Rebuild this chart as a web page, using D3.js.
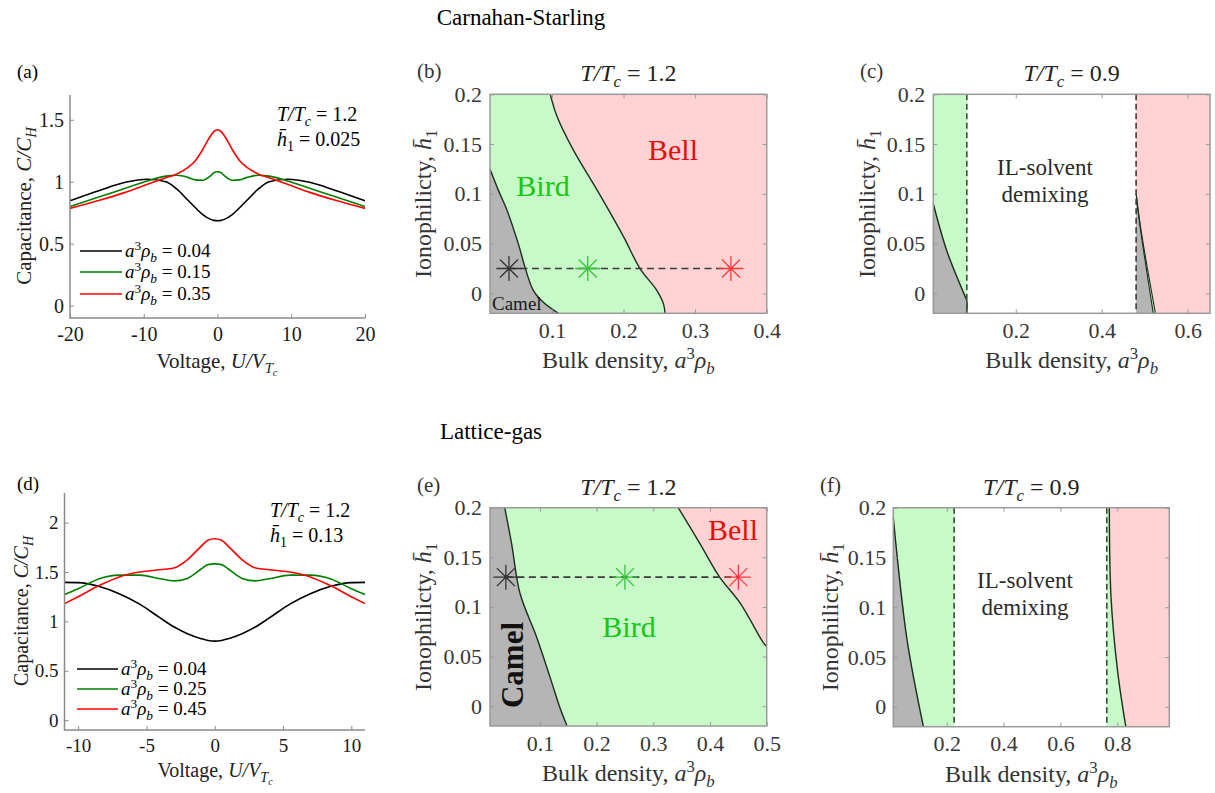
<!DOCTYPE html>
<html>
<head>
<meta charset="utf-8">
<script src="https://cdn.jsdelivr.net/npm/d3@7"></script>
<style>
  body { margin: 0; background: #fff; }
  text { font-family: "Liberation Serif", "DejaVu Serif", serif; }
</style>
</head>
<body>
<div id="chart"></div>
<script>

// DATA: capacitance curves
//=====================
var voltageA = [-20, -16, -12.5, -9.5, -7, -5.5, -4, -3, -2, -1, -0.5, 0, 0.5, 1, 2, 3, 4, 5.5, 7, 9.5, 12.5, 16, 20];
var capA004 = [0.847, 0.93, 0.995, 1.02, 1.0, 0.94, 0.85, 0.79, 0.735, 0.698, 0.688, 0.685, 0.688, 0.698, 0.735, 0.79, 0.85, 0.94, 1.0, 1.02, 0.995, 0.93, 0.847];
var capA015 = [0.80, 0.878, 0.947, 1.006, 1.045, 1.052, 1.035, 1.015, 1.012, 1.045, 1.072, 1.08, 1.072, 1.045, 1.012, 1.015, 1.035, 1.052, 1.045, 1.006, 0.947, 0.878, 0.80];
var capA035 = [0.785, 0.85, 0.914, 0.979, 1.032, 1.063, 1.115, 1.17, 1.26, 1.365, 1.405, 1.42, 1.405, 1.365, 1.26, 1.17, 1.115, 1.063, 1.032, 0.979, 0.914, 0.85, 0.785];
var legendA = ["0.04", "0.15", "0.35"];

var voltageD = [-11, -10, -8.5, -7, -5.5, -4, -3, -2, -1, -0.5, 0, 0.5, 1, 2, 3, 4, 5.5, 7, 8.5, 10, 11];
var capD004 = [1.395, 1.392, 1.355, 1.28, 1.175, 1.035, 0.945, 0.875, 0.825, 0.807, 0.80, 0.807, 0.825, 0.875, 0.945, 1.035, 1.175, 1.28, 1.355, 1.392, 1.395];
var capD025 = [1.272, 1.33, 1.43, 1.468, 1.468, 1.432, 1.41, 1.435, 1.53, 1.575, 1.582, 1.575, 1.53, 1.435, 1.41, 1.432, 1.468, 1.468, 1.43, 1.33, 1.272];
var capD045 = [1.18, 1.25, 1.36, 1.45, 1.50, 1.523, 1.54, 1.625, 1.76, 1.822, 1.837, 1.822, 1.76, 1.625, 1.54, 1.523, 1.50, 1.45, 1.36, 1.25, 1.18];
var legendD = ["0.04", "0.25", "0.45"];

var ticksVoltA = [-20, -10, 0, 10, 20];
var ticksCapA = [0, 0.5, 1, 1.5];
var ticksVoltD = [-10, -5, 0, 5, 10];
var ticksCapD = [0, 0.5, 1, 1.5, 2];
var ticksH = [0, 0.05, 0.1, 0.15, 0.2];
var ticksRhoB = [0.1, 0.2, 0.3, 0.4];
var ticksRhoC = [0.2, 0.4, 0.6];
var ticksRhoE = [0.1, 0.2, 0.3, 0.4, 0.5];
var ticksRhoF = [0.2, 0.4, 0.6, 0.8];

// DATA: phase boundaries [a^3 rho_b, h1]
//=====================
var bCamelLine = [[0.0135, 0.125], [0.025, 0.104], [0.037, 0.084], [0.053, 0.05], [0.0625, 0.026], [0.074, 0.003], [0.088, -0.009], [0.109, -0.02]];
var bBellLine = [[0.0977, 0.2], [0.107, 0.178], [0.130, 0.144], [0.163, 0.104], [0.2, 0.057], [0.223, 0.025], [0.2465, 0.003], [0.256, -0.011], [0.258, -0.02]];
var bStarRho = [0.04, 0.15, 0.35];
var bStarH = 0.025;

var cCamelLine = [[0.008, 0.09], [0.04, 0.042], [0.083, -0.004], [0.086, -0.007], [0.086, -0.02]];
var cDemix = [0.086, 0.48];
var cCamelLine2 = [[0.48, 0.1], [0.49, 0.065], [0.52, -0.02]];
var cBellLine2 = [[0.481, 0.097], [0.492, 0.062], [0.525, -0.02]];

var eCamelLine = [[0.038, 0.2], [0.05, 0.164], [0.065, 0.1135], [0.094, 0.07], [0.118, 0.029], [0.135, -0.001], [0.148, -0.02]];
var eBellLine = [[0.344, 0.2], [0.382, 0.164], [0.417, 0.13], [0.453, 0.104], [0.494, 0.064], [0.5, 0.06]];
var eStarRho = [0.04, 0.25, 0.45];
var eStarH = 0.13;

var fCamelLine = [[0.012, 0.19], [0.06, 0.068], [0.118, -0.02]];
var fDemix = [0.226, 0.763];
var fBellLine = [[0.772, 0.2], [0.778, 0.11], [0.801, 0.036], [0.83, -0.02]];

var curveColors = ["#000000", "#007f00", "#ff0000"];
var starColors = ["#333333", "#3cc23c", "#ff3b3b"];
var fillGray = "#b5b5b5", fillGreen = "#c8f9c8", fillRed = "#ffd3d3";
var edgeColor = "#1c2e1c";
var serif = "Liberation Serif, DejaVu Serif, serif";

/// APPEND SVG
//=====================
var svg = d3.select("#chart")
    .append("svg")
    .attr("width", 1215)
    .attr("height", 793);

var fmt = d => String(+d.toFixed(3));

// text with italic / sub / sup pieces
function mathText(t, parts, size) {
    var shift = 0;
    parts.forEach(function(p) {
        var fs = size, target = 0;
        if (p.sub) { fs = size * 0.7; target = size * 0.25; }
        if (p.sub2) { fs = size * 0.5; target = size * 0.38; }
        if (p.sup) { fs = size * 0.7; target = -size * 0.38; }
        var ts = t.append("tspan").attr("font-size", fs).attr("dy", target - shift).text(p.t);
        if (p.i) ts.attr("font-style", "italic");
        shift = target;
    });
    return t;
}

function addText(x, y, parts, size, opts) {
    opts = opts || {};
    var t = svg.append("text")
        .style("font-family", serif)
        .attr("font-size", size)
        .attr("fill", opts.fill || "#000")
        .attr("text-anchor", opts.anchor || "start");
    if (opts.rotate) t.attr("transform", `translate(${x},${y}) rotate(-90)`);
    else t.attr("x", x).attr("y", y);
    if (opts.weight) t.attr("font-weight", opts.weight);
    return mathText(t, parts, size);
}

function styleAxis(g, size, color, tickColor) {
    g.attr("font-family", null).style("font-family", serif).attr("font-size", size);
    g.select(".domain").remove();
    g.selectAll(".tick line").attr("stroke", tickColor).attr("stroke-width", 1);
    g.selectAll(".tick text").attr("fill", color);
}

var TcParts = (v) => [{t: "T/T", i: true}, {t: "c", i: true, sub: true}, {t: " = " + v}];
var hParts = (v) => [{t: "h\u0304", i: true}, {t: "1", sub: true}, {t: " = " + v}];
var rhoParts = [{t: "a", i: true}, {t: "3", sup: true}, {t: "\u03c1", i: true}, {t: "b", i: true, sub: true}];

/// CAPACITANCE PANELS (a), (d)
//=====================
function curvePanel(box, xDom, yDom, xTicks, yTicks, volt, series, legend, leg, note) {
    var x = d3.scaleLinear().domain(xDom).range([box.l, box.r]);
    var y = d3.scaleLinear().domain(yDom).range([box.b, box.t]);
    var g = svg.append("g");

    var line = d3.line()
        .x(d => x(d[0]))
        .y(d => y(d[1]))
        .curve(d3.curveMonotoneX);

    series.forEach(function(s, i) {
        g.append("path")
            .attr("d", line(d3.zip(volt, s)))
            .attr("fill", "none")
            .attr("stroke", curveColors[i])
            .attr("stroke-width", 1.6);
    });

    var xa = g.append("g").attr("transform", `translate(0,${box.b})`)
        .call(d3.axisBottom(x).tickValues(xTicks).tickSize(-4).tickPadding(9).tickFormat(fmt));
    styleAxis(xa, box.fs, "#1a1a1a", "#8a8a8a");
    var ya = g.append("g").attr("transform", `translate(${box.l},0)`)
        .call(d3.axisLeft(y).tickValues(yTicks).tickSize(-4).tickPadding(6).tickFormat(fmt));
    styleAxis(ya, box.fs, "#1a1a1a", "#8a8a8a");

    g.append("path")
        .attr("d", `M${box.l},${box.t}V${box.b}H${box.r}`)
        .attr("fill", "none")
        .attr("stroke", "#8a8a8a")
        .attr("stroke-width", 1.5);

    // legend
    legend.forEach(function(v, i) {
        var ly = leg.y[i];
        g.append("line")
            .attr("x1", leg.x1).attr("x2", leg.x2)
            .attr("y1", ly).attr("y2", ly)
            .attr("stroke", curveColors[i])
            .attr("stroke-width", 1.6);
        addText(leg.x2 + 3, ly + 6, rhoParts.concat([{t: " = " + v}]), 19);
    });

    addText(note.x, note.y[0], TcParts("1.2"), 20);
    addText(note.x, note.y[1], hParts(note.h), 20);
}

curvePanel({l: 70, r: 365, t: 95, b: 318, fs: 20}, [-20, 20], [-0.1, 1.7], ticksVoltA, ticksCapA,
    voltageA, [capA004, capA015, capA035], legendA,
    {x1: 80, x2: 122, y: [251, 272, 294]}, {x: 277, y: [121, 146], h: "0.025"});

curvePanel({l: 64.5, r: 365, t: 493, b: 730, fs: 19}, [-11, 11], [-0.1, 2.3], ticksVoltD, ticksCapD,
    voltageD, [capD004, capD025, capD045], legendD,
    {x1: 77, x2: 118, y: [669, 689, 709]}, {x: 270, y: [517, 542], h: "0.13"});

/// PHASE DIAGRAM PANELS (b), (c), (e), (f)
//=====================
function phasePanel(box, xDom) {
    var x = d3.scaleLinear().domain(xDom).range([box.l, box.r]);
    var y = d3.scaleLinear().domain([-0.02, 0.2]).range([box.b, box.t]);
    var g = svg.append("g");
    return {g: g, x: x, y: y, box: box, xDom: xDom};
}

function poly(p, pts, fill) {
    p.g.append("path")
        .attr("d", "M" + pts.map(d => [p.x(d[0]), p.y(d[1])].join(",")).join("L") + "Z")
        .attr("fill", fill);
}

function edge(p, pts, color, width) {
    p.g.append("path")
        .attr("d", d3.line().x(d => p.x(d[0])).y(d => p.y(d[1])).curve(d3.curveCatmullRom)(pts))
        .attr("fill", "none")
        .attr("stroke", color || edgeColor)
        .attr("stroke-width", width || 1.4);
}

function vdash(p, v, color) {
    p.g.append("line")
        .attr("x1", p.x(v)).attr("x2", p.x(v))
        .attr("y1", p.box.t).attr("y2", p.box.b)
        .attr("stroke", color)
        .attr("stroke-width", 1.6)
        .attr("stroke-dasharray", "6,3.5");
}

function stars(p, rhos, h) {
    p.g.append("line")
        .attr("x1", p.x(rhos[0])).attr("x2", p.x(rhos[rhos.length - 1]))
        .attr("y1", p.y(h)).attr("y2", p.y(h))
        .attr("stroke", "#3a3a3a")
        .attr("stroke-width", 1.6)
        .attr("stroke-dasharray", "7,4.5");
    var r = 12.5, q = r * 0.72;
    rhos.forEach(function(v, i) {
        var cx = p.x(v), cy = p.y(h);
        p.g.append("path")
            .attr("d", `M${cx - r},${cy}H${cx + r}M${cx},${cy - r}V${cy + r}` +
                `M${cx - q},${cy - q}L${cx + q},${cy + q}M${cx - q},${cy + q}L${cx + q},${cy - q}`)
            .attr("stroke", starColors[i])
            .attr("stroke-width", 1.3)
            .attr("fill", "none");
    });
}

function phaseAxes(p, xTicks, lab) {
    var b = p.box;
    var ax = p.g.append("g").attr("transform", `translate(0,${b.b})`)
        .call(d3.axisBottom(p.x).tickValues(xTicks).tickSize(-4).tickPadding(9).tickFormat(fmt));
    styleAxis(ax, 22, "#383838", "#999");
    var at = p.g.append("g").attr("transform", `translate(0,${b.t})`)
        .call(d3.axisTop(p.x).tickValues(xTicks).tickSize(-4).tickFormat(""));
    styleAxis(at, 22, "#383838", "#999");
    var ay = p.g.append("g").attr("transform", `translate(${b.l},0)`)
        .call(d3.axisLeft(p.y).tickValues(ticksH).tickSize(-4).tickPadding(b.pad).tickFormat(fmt));
    styleAxis(ay, 22, "#383838", "#999");
    var ar = p.g.append("g").attr("transform", `translate(${b.r},0)`)
        .call(d3.axisRight(p.y).tickValues(ticksH).tickSize(-4).tickFormat(""));
    styleAxis(ar, 22, "#383838", "#999");

    p.g.append("rect")
        .attr("x", b.l).attr("y", b.t)
        .attr("width", b.r - b.l).attr("height", b.b - b.t)
        .attr("fill", "none")
        .attr("stroke", "#9a9a9a")
        .attr("stroke-width", 1.5);

    var cx = (b.l + b.r) / 2;
    addText(cx, b.t - 13, TcParts(lab.T), 24, {anchor: "middle", fill: "#222"});
    addText(lab.px, b.t - 16, [{t: lab.name}], 21, {fill: "#333"});
    addText(cx, b.b + 55, [{t: "Bulk density, "}].concat(rhoParts), 24, {anchor: "middle", fill: "#333"});
    addText(lab.yx, (b.t + b.b) / 2, [{t: "Ionophilicty, "}, {t: "h\u0304", i: true}, {t: "1", sub: true}], 24,
        {anchor: "middle", fill: "#333", rotate: true});
}

// (b)
var pb = phasePanel({l: 490, r: 766.7, t: 94.3, b: 313.3, pad: 8}, [0.0135, 0.4]);
poly(pb, [[0.0135, -0.02], [0.0135, 0.2], [0.4, 0.2], [0.4, -0.02]], fillRed);
poly(pb, [[0.0135, -0.02], [0.0135, 0.2]].concat(bBellLine), fillGreen);
poly(pb, [[0.0135, -0.02]].concat(bCamelLine), fillGray);
edge(pb, bCamelLine);
edge(pb, bBellLine);
stars(pb, bStarRho, bStarH);
addText(673, 160, [{t: "Bell"}], 30, {anchor: "middle", fill: "#e50d0d"});
addText(543, 196, [{t: "Bird"}], 30, {anchor: "middle", fill: "#14c814"});
addText(492, 310, [{t: "Camel"}], 19, {fill: "#1a1a1a"});
phaseAxes(pb, ticksRhoB, {T: "1.2", name: "(b)", px: 417, yx: 431});

// (c)
var pc = phasePanel({l: 933.3, r: 1210, t: 94.3, b: 313.3, pad: 8}, [0.008, 0.652]);
poly(pc, [[0.008, -0.02], [0.008, 0.2], [cDemix[0], 0.2], [cDemix[0], -0.02]], fillGreen);
poly(pc, [[0.008, -0.02]].concat(cCamelLine), fillGray);
poly(pc, [[cDemix[1], -0.02], [cDemix[1], 0.2], [0.652, 0.2], [0.652, -0.02]], fillRed);
poly(pc, [[cDemix[1], -0.02]].concat(cCamelLine2), fillGray);
poly(pc, cCamelLine2.concat(cBellLine2.slice().reverse()), fillGreen);
edge(pc, cCamelLine);
edge(pc, cCamelLine2, edgeColor, 1.1);
edge(pc, cBellLine2, edgeColor, 1.1);
vdash(pc, cDemix[0], "#2f5a2f");
vdash(pc, cDemix[1], "#3a3a3a");
addText(1045, 175, [{t: "IL-solvent"}], 23, {anchor: "middle", fill: "#2a2a2a"});
addText(1045, 202, [{t: "demixing"}], 23, {anchor: "middle", fill: "#2a2a2a"});
phaseAxes(pc, ticksRhoC, {T: "0.9", name: "(c)", px: 860, yx: 875});

// (e)
var pe = phasePanel({l: 490, r: 766.7, t: 507.7, b: 726, pad: 8}, [0.012, 0.5]);
poly(pe, [[0.012, -0.02], [0.012, 0.2], [0.5, 0.2], [0.5, -0.02]], fillGreen);
poly(pe, [[0.012, -0.02], [0.012, 0.2]].concat(eCamelLine), fillGray);
poly(pe, eBellLine.concat([[0.5, 0.2]]), fillRed);
edge(pe, eCamelLine);
edge(pe, eBellLine);
stars(pe, eStarRho, eStarH);
addText(733, 540, [{t: "Bell"}], 30, {anchor: "middle", fill: "#e50d0d"});
addText(629, 637, [{t: "Bird"}], 30, {anchor: "middle", fill: "#14c814"});
addText(523, 665, [{t: "Camel"}], 31, {anchor: "middle", fill: "#111", rotate: true, weight: "bold"});
phaseAxes(pe, ticksRhoE, {T: "1.2", name: "(e)", px: 417, yx: 431});

// (f)
var pf = phasePanel({l: 893.3, r: 1169.3, t: 507.7, b: 726.7, pad: 7}, [0.012, 0.983]);
poly(pf, [[0.012, -0.02], [0.012, 0.2], [fDemix[0], 0.2], [fDemix[0], -0.02]], fillGreen);
poly(pf, [[0.012, -0.02]].concat(fCamelLine), fillGray);
poly(pf, [[fDemix[1], -0.02], [fDemix[1], 0.2]].concat(fBellLine), fillGreen);
poly(pf, fBellLine.concat([[0.983, -0.02], [0.983, 0.2]]), fillRed);
edge(pf, fCamelLine);
edge(pf, fBellLine);
vdash(pf, fDemix[0], "#2f4f2f");
vdash(pf, fDemix[1], "#2f4f2f");
addText(1025, 588, [{t: "IL-solvent"}], 23, {anchor: "middle", fill: "#2a2a2a"});
addText(1025, 615, [{t: "demixing"}], 23, {anchor: "middle", fill: "#2a2a2a"});
phaseAxes(pf, ticksRhoF, {T: "0.9", name: "(f)", px: 820, yx: 838});

/// PANEL LABELS, AXIS LABELS, SECTION TITLES
//=====================
addText(17, 78, [{t: "(a)"}], 19);
addText(17, 490, [{t: "(d)"}], 19);

addText(217, 368, [{t: "Voltage, "}, {t: "U/V", i: true}, {t: "T", i: true, sub: true}, {t: "c", i: true, sub2: true}], 21, {anchor: "middle", fill: "#222"});
addText(215, 777, [{t: "Voltage, "}, {t: "U/V", i: true}, {t: "T", i: true, sub: true}, {t: "c", i: true, sub2: true}], 20, {anchor: "middle", fill: "#222"});
addText(31, 206, [{t: "Capacitance, "}, {t: "C/C", i: true}, {t: "H", i: true, sub: true}], 21, {anchor: "middle", fill: "#222", rotate: true});
addText(28, 611, [{t: "Capacitance, "}, {t: "C/C", i: true}, {t: "H", i: true, sub: true}], 20, {anchor: "middle", fill: "#222", rotate: true});

addText(521, 25, [{t: "Carnahan-Starling"}], 23, {anchor: "middle"});
addText(491, 439, [{t: "Lattice-gas"}], 23, {anchor: "middle"});

</script>
</body>
</html>
